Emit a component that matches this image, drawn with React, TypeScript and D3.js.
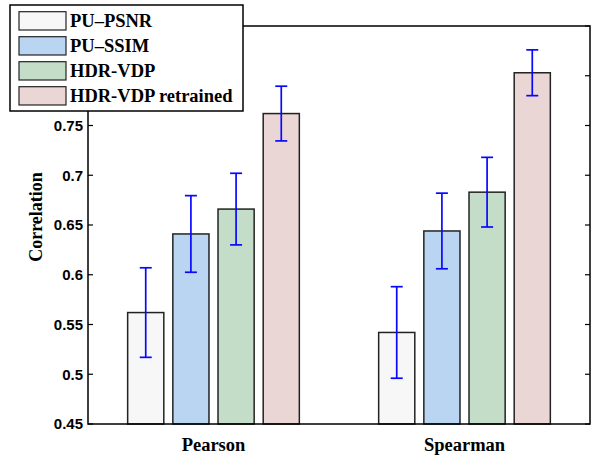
import React from 'react';
import * as d3 from 'd3';

const categories = ['Pearson', 'Spearman'];
const seriesNames = ['PU–PSNR', 'PU–SSIM', 'HDR-VDP', 'HDR-VDP retrained'];
const seriesColors = ['#f7f7f7', '#bad5f2', '#c3ddc8', '#ebd6d6'];
// values per series, one per category
const puPsnr = [0.562, 0.542];
const puSsim = [0.641, 0.644];
const hdrVdp = [0.666, 0.683];
const hdrVdpRetrained = [0.762, 0.803];
// half-width of error bars
const puPsnrErr = [0.045, 0.046];
const puSsimErr = [0.0385, 0.038];
const hdrVdpErr = [0.036, 0.035];
const hdrVdpRetrainedErr = [0.0275, 0.023];
const yTicks = [0.45, 0.5, 0.55, 0.6, 0.65, 0.7, 0.75, 0.8, 0.85];
// labels under the legend are hidden in the original
const yTickLabels = [0.45, 0.5, 0.55, 0.6, 0.65, 0.7, 0.75];

const values = [puPsnr, puSsim, hdrVdp, hdrVdpRetrained];
const errors = [puPsnrErr, puSsimErr, hdrVdpErr, hdrVdpRetrainedErr];

export default function App() {
  const width = 592;
  const height = 455;
  const left = 88;
  const right = 590;
  const top = 26;
  const bottom = 424;

  const x = d3.scaleLinear().domain([0.5, 2.5]).range([left, right]);
  const y = d3.scaleLinear().domain([0.45, 0.85]).range([bottom, top]);
  const groupWidth = x(1.36) - x(0.64);
  const inner = d3
    .scaleBand<number>()
    .domain(d3.range(seriesNames.length))
    .range([-groupWidth / 2, groupWidth / 2])
    .paddingInner(0.2)
    .paddingOuter(0.1);

  const sans = '"Liberation Sans", Arial, sans-serif';
  const serif = '"Liberation Serif", "Times New Roman", serif';

  return (
    <svg
      width={width}
      height={height}
      style={{ position: 'absolute', left: 0, top: 0, background: '#fff' }}
    >
      {/* bars */}
      {categories.map((cat, ci) =>
        seriesNames.map((s, si) => {
          const bx = x(ci + 1) + (inner(si) as number);
          const v = values[si][ci];
          return (
            <rect
              key={cat + s}
              x={bx}
              y={y(v)}
              width={inner.bandwidth()}
              height={bottom - y(v)}
              fill={seriesColors[si]}
              stroke="#222"
              strokeWidth={1.5}
            />
          );
        })
      )}
      {/* error bars */}
      {categories.map((cat, ci) =>
        seriesNames.map((s, si) => {
          const cx = x(ci + 1) + (inner(si) as number) + inner.bandwidth() / 2;
          const v = values[si][ci];
          const e = errors[si][ci];
          const y1 = y(v + e);
          const y2 = y(v - e);
          return (
            <g key={'e' + cat + s} stroke="#0808ff" strokeWidth={1.7}>
              <line x1={cx} x2={cx} y1={y1} y2={y2} />
              <line x1={cx - 6} x2={cx + 6} y1={y1} y2={y1} />
              <line x1={cx - 6} x2={cx + 6} y1={y2} y2={y2} />
            </g>
          );
        })
      )}
      {/* frame */}
      <rect
        x={left}
        y={top}
        width={right - left}
        height={bottom - top}
        fill="none"
        stroke="#000"
        strokeWidth={1.5}
      />
      {/* y ticks */}
      {yTicks.map((t) => (
        <g key={t}>
          <line x1={left} x2={left + 5} y1={y(t)} y2={y(t)} stroke="#000" strokeWidth={1.2} />
          <line x1={right} x2={right - 5} y1={y(t)} y2={y(t)} stroke="#000" strokeWidth={1.2} />
        </g>
      ))}
      {yTickLabels.map((t) => (
        <text
          key={'l' + t}
          x={left - 5}
          y={y(t)}
          dy="0.36em"
          textAnchor="end"
          fontFamily={sans}
          fontWeight="bold"
          fontSize={15}
        >
          {d3.format('~g')(t)}
        </text>
      ))}
      {/* category labels */}
      {categories.map((cat, ci) => (
        <text
          key={cat}
          x={x(ci + 1)}
          y={451}
          textAnchor="middle"
          fontFamily={serif}
          fontWeight="bold"
          fontSize={18.5}
        >
          {cat}
        </text>
      ))}
      <text
        transform={`translate(42,217) rotate(-90)`}
        textAnchor="middle"
        fontFamily={serif}
        fontWeight="bold"
        fontSize={18}
      >
        Correlation
      </text>
      {/* legend */}
      <g>
        <rect x={10} y={5} width={233} height={106} fill="#fff" stroke="#000" strokeWidth={1.5} />
        {seriesNames.map((s, si) => (
          <g key={s} transform={`translate(0,${11.7 + si * 25})`}>
            <rect x={19} y={0} width={47} height={18.3} fill={seriesColors[si]} stroke="#222" strokeWidth={1.2} />
            <text x={70} y={15.5} fontFamily={serif} fontWeight="bold" fontSize={18.5}>
              {s}
            </text>
          </g>
        ))}
      </g>
    </svg>
  );
}
